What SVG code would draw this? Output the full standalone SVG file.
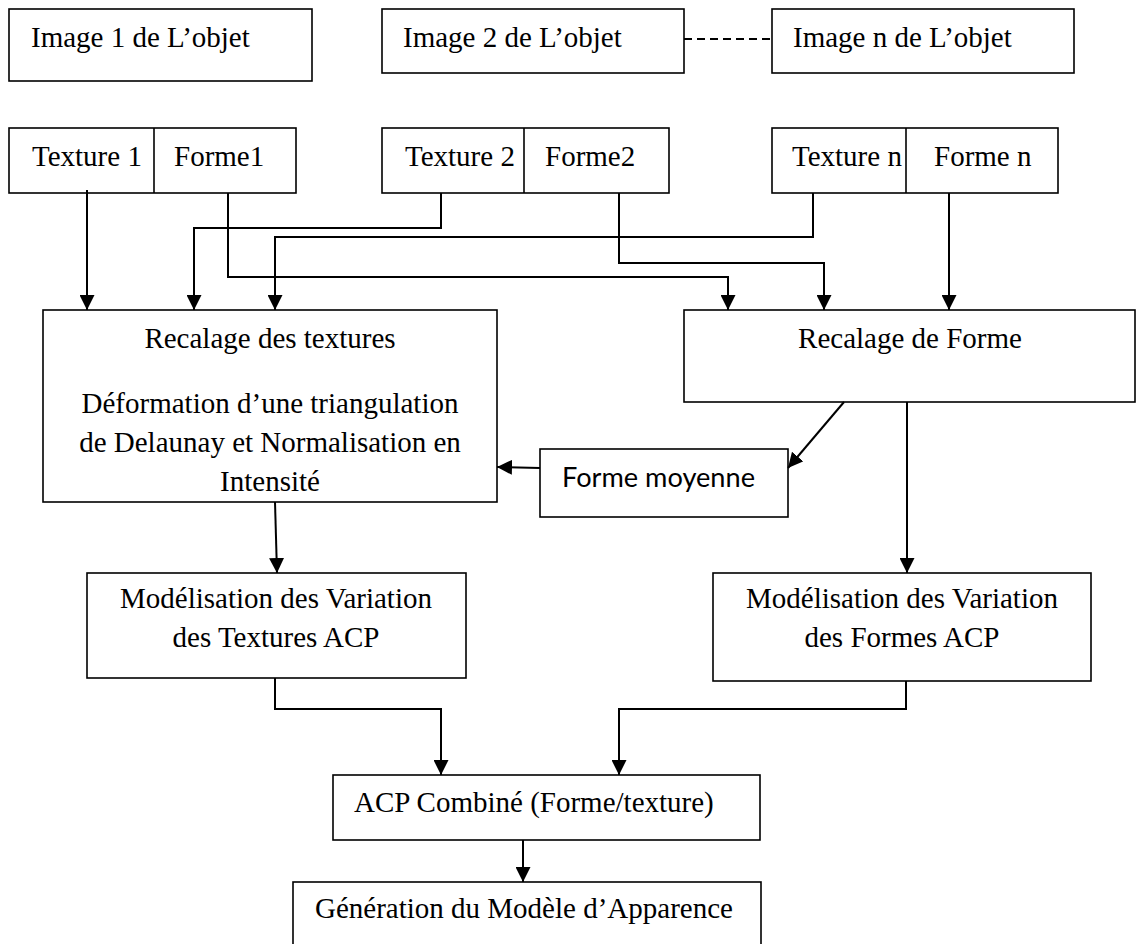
<svg xmlns="http://www.w3.org/2000/svg" width="1138" height="944" viewBox="0 0 1138 944">
<style>
.box{fill:#fff;stroke:#000;stroke-width:1.6}
.t{font-family:"Liberation Serif","Times New Roman",serif;font-size:29px;fill:#000}
.c{text-anchor:middle}
.s{font-family:Lato,"Noto Sans",sans-serif;font-size:27px;fill:#000}
.ln{fill:none;stroke:#000;stroke-width:2}
</style>
<defs>
<marker id="ah" markerUnits="userSpaceOnUse" markerWidth="15" markerHeight="15" refX="15" refY="7.5" orient="auto" viewBox="0 0 15 15">
<path d="M0,0 L15,7.5 L0,15 z" fill="#000"/>
</marker>
</defs>
<rect width="1138" height="944" fill="#fff"/>
<g id="img1"><rect class="box" x="9" y="9" width="303" height="72"/><text class="t" x="31" y="47">Image 1 de L’objet</text></g>
<g id="img2"><rect class="box" x="382" y="9" width="302" height="64"/><text class="t" x="403" y="47">Image 2 de L’objet</text></g>
<g id="imgn"><rect class="box" x="772" y="9" width="302" height="64"/><text class="t" x="793" y="47">Image n de L’objet</text></g>
<g id="tf1"><rect class="box" x="9" y="128" width="287" height="65"/><line class="box" x1="154" y1="128" x2="154" y2="193"/><text class="t" x="32" y="166">Texture 1</text><text class="t" x="174" y="166">Forme1</text></g>
<g id="tf2"><rect class="box" x="382" y="128" width="287" height="65"/><line class="box" x1="524" y1="128" x2="524" y2="193"/><text class="t" x="405" y="166">Texture 2</text><text class="t" x="545" y="166">Forme2</text></g>
<g id="tfn"><rect class="box" x="772" y="128" width="286" height="65"/><line class="box" x1="906" y1="128" x2="906" y2="193"/><text class="t" x="792" y="166">Texture n</text><text class="t" x="934" y="166">Forme n</text></g>
<g id="rt"><rect class="box" x="43" y="310" width="454" height="192"/>
<text class="t c" x="270" y="348">Recalage des textures</text>
<text class="t c" x="270" y="413">Déformation d’une triangulation</text>
<text class="t c" x="270" y="452">de Delaunay et Normalisation en</text>
<text class="t c" x="270" y="491">Intensité</text></g>
<g id="rf"><rect class="box" x="684" y="310" width="451" height="92"/><text class="t c" x="910" y="348">Recalage de Forme</text></g>
<g id="fm"><rect class="box" x="540" y="449" width="248" height="68"/><text class="s" x="562" y="487" textLength="193" lengthAdjust="spacingAndGlyphs">Forme moyenne</text></g>
<g id="mt"><rect class="box" x="87" y="573" width="379" height="105"/><text class="t c" x="276" y="608">Modélisation des Variation</text><text class="t c" x="276" y="647">des Textures ACP</text></g>
<g id="mf"><rect class="box" x="713" y="573" width="378" height="108"/><text class="t c" x="902" y="608">Modélisation des Variation</text><text class="t c" x="902" y="647">des Formes ACP</text></g>
<g id="acp"><rect class="box" x="333" y="775" width="427" height="65"/><text class="t" x="354" y="812">ACP Combiné (Forme/texture)</text></g>
<g id="gen"><rect class="box" x="293" y="882" width="468" height="70"/><text class="t" x="315" y="918">Génération du Modèle d’Apparence</text></g>
<g id="connectors">
<line class="ln" x1="684" y1="39" x2="772" y2="39" stroke-dasharray="8,5"/>
<polyline class="ln" points="87,190 87,310" marker-end="url(#ah)"/>
<polyline class="ln" points="441,193 441,228 194,228 194,310" marker-end="url(#ah)"/>
<polyline class="ln" points="813,193 813,237 275,237 275,310" marker-end="url(#ah)"/>
<polyline class="ln" points="228,193 228,277 728,277 728,310" marker-end="url(#ah)"/>
<polyline class="ln" points="619,193 619,263 824,263 824,310" marker-end="url(#ah)"/>
<polyline class="ln" points="949,193 949,310" marker-end="url(#ah)"/>
<line class="ln" x1="844" y1="402" x2="788" y2="468" marker-end="url(#ah)"/>
<line class="ln" x1="540" y1="468" x2="497" y2="467" marker-end="url(#ah)"/>
<line class="ln" x1="907" y1="402" x2="907" y2="573" marker-end="url(#ah)"/>
<line class="ln" x1="275" y1="502" x2="277" y2="573" marker-end="url(#ah)"/>
<polyline class="ln" points="275,678 275,709 441,709 441,775" marker-end="url(#ah)"/>
<polyline class="ln" points="906,681 906,709 619,709 619,775" marker-end="url(#ah)"/>
<line class="ln" x1="523" y1="840" x2="523" y2="882" marker-end="url(#ah)"/>
</g>
</svg>
